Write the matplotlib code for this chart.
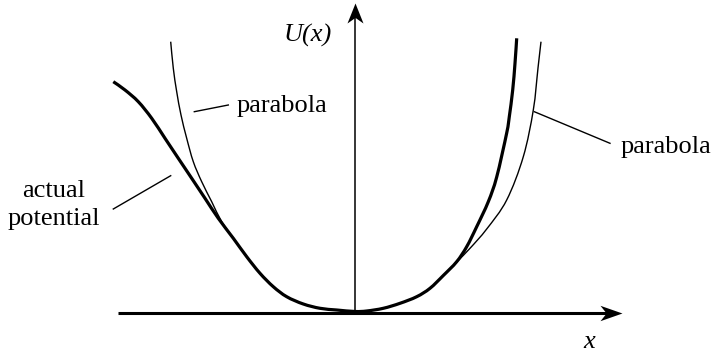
import numpy as np
import matplotlib
matplotlib.use("Agg")
import matplotlib.pyplot as plt
from matplotlib.path import Path
from matplotlib.patches import PathPatch

# readings from the picture (x, U) in arbitrary units, origin at the axes crossing
actual_x = [-2.417, -2.30, -2.167, -2.033, -1.90, -1.767, -1.633, -1.50, -1.367,
            -1.217, -1.083, -0.95, -0.817, -0.683, -0.517, -0.35, -0.183, 0.0,
            0.117, 0.283, 0.45, 0.617, 0.75, 0.883, 1.017, 1.117, 1.217, 1.333,
            1.417, 1.517, 1.543, 1.577, 1.60, 1.617]
actual_u = [2.313, 2.23, 2.113, 1.947, 1.747, 1.547, 1.347, 1.147, 0.947,
            0.747, 0.563, 0.397, 0.263, 0.163, 0.09, 0.047, 0.03, 0.015,
            0.02, 0.047, 0.097, 0.163, 0.247, 0.375, 0.513, 0.663, 0.863, 1.113,
            1.36, 1.80, 1.963, 2.23, 2.497, 2.747]

parab_x = [-1.843, -1.817, -1.783, -1.74, -1.683, -1.617, -1.533, -1.433, -1.333,
           -1.217, -1.083, -0.95, -0.817, -0.683, -0.517, -0.35, -0.183, 0.0,
           0.117, 0.283, 0.45, 0.617, 0.75, 0.883, 1.017, 1.15, 1.317, 1.517,
           1.683, 1.783, 1.83, 1.86]
parab_u = [2.713, 2.447, 2.213, 1.98, 1.747, 1.513, 1.313, 1.113, 0.913,
           0.747, 0.563, 0.397, 0.263, 0.163, 0.09, 0.047, 0.03, 0.015,
           0.02, 0.047, 0.097, 0.163, 0.247, 0.375, 0.51, 0.647, 0.84, 1.13,
           1.563, 2.03, 2.45, 2.713]

serif = "Liberation Serif"
fs = 19


def smooth_path(xs, ys):
    # catmull-rom through the read points, drawn as cubic bezier segments
    p = np.column_stack([xs, ys])
    pts = np.vstack([p[0], p, p[-1]])
    verts = [p[0]]
    codes = [Path.MOVETO]
    for i in range(1, len(pts) - 2):
        c1 = pts[i] + (pts[i + 1] - pts[i - 1]) / 6
        c2 = pts[i + 1] - (pts[i + 2] - pts[i]) / 6
        verts += [c1, c2, pts[i + 1]]
        codes += [Path.CURVE4] * 3
    return Path(verts, codes)


fig = plt.figure(figsize=(7.14, 3.54), dpi=100)
ax = fig.add_axes([0, 0, 1, 1])
ax.set_xlim(-3.55, 3.59)
ax.set_ylim(-0.41, 3.13)
ax.axis("off")

# axes with stealth arrow heads
head_r = Path([(0, 0), (-1, 0.35), (-0.72, 0), (-1, -0.35), (0, 0)],
              [Path.MOVETO, Path.LINETO, Path.LINETO, Path.LINETO, Path.CLOSEPOLY])
head_u = Path([(0, 0), (0.4, -1), (0, -0.72), (-0.4, -1), (0, 0)],
              [Path.MOVETO, Path.LINETO, Path.LINETO, Path.LINETO, Path.CLOSEPOLY])
ax.plot([-2.37, 2.55], [0, 0], color="k", lw=2.2, solid_capstyle="butt")
ax.plot([2.67], [0], marker=head_r, ms=31.7, color="k", mew=0)
ax.plot([0, 0], [0, 2.95], color="k", lw=1.1, solid_capstyle="butt")
ax.plot([0], [3.10], marker=head_u, ms=28.8, color="k", mew=0)

# curves
ax.add_patch(PathPatch(smooth_path(parab_x, parab_u), fill=False, ec="k", lw=1.0))
ax.add_patch(PathPatch(smooth_path(actual_x, actual_u), fill=False, ec="k", lw=2.3,
                       capstyle="butt", joinstyle="round"))

# leader lines
ax.plot([-1.607, -1.267], [2.013, 2.08], color="k", lw=1.0)
ax.plot([-2.417, -1.843], [1.04, 1.373], color="k", lw=1.0)
ax.plot([1.793, 2.55], [2.013, 1.697], color="k", lw=1.0)

# labels
ax.text(-0.47, 2.78, "U(x)", fontsize=fs, family=serif, style="italic",
        ha="center", va="center")
ax.text(2.34, -0.29, "x", fontsize=fs, family=serif, style="italic",
        ha="center", va="center")
ax.text(-1.18, 2.01, "parabola", fontsize=fs, family=serif, ha="left", va="baseline")
ax.text(2.657, 1.60, "parabola", fontsize=fs, family=serif, ha="left", va="baseline")
ax.text(-3.01, 1.16, "actual", fontsize=fs, family=serif, ha="center", va="baseline")
ax.text(-3.01, 0.88, "potential", fontsize=fs, family=serif, ha="center", va="baseline")

fig.savefig("out.png", dpi=100)
